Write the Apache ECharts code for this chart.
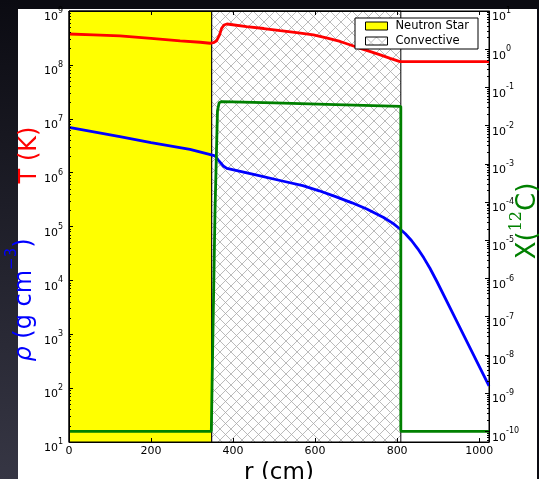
<!DOCTYPE html>
<html>
<head>
<meta charset="utf-8">
<script src="https://cdn.jsdelivr.net/npm/echarts@6/dist/echarts.min.js"></script>
<style>
html,body{margin:0;padding:0;width:539px;height:479px;overflow:hidden;background:#0b0b12;}
#strip{position:absolute;left:0;top:0;width:18px;height:479px;background:linear-gradient(#0b0b12,#363644);}
#paper{position:absolute;left:18px;top:9px;width:519px;height:470px;background:#ffffff;}
#chart{position:absolute;left:0;top:0;width:539px;height:479px;}
</style>
</head>
<body>
<div id="strip"></div><div id="paper"></div><div id="chart"></div>
<script>
// ---- data ----
const xTicks = [0, 200, 400, 600, 800, 1000];
const rMax = 1024;
const leftExponents = [1, 2, 3, 4, 5, 6, 7, 8, 9];          // rho, T axis: 10^1 .. 10^9
const rightExponents = [-10, -9, -8, -7, -6, -5, -4, -3, -2, -1, 0, 1]; // X(12C) axis
const leftLogRange = [1, 9];
const rightLogRange = [-10.28, 1];

const nsRange = [0, 348];      // Neutron Star region (cm)
const convRange = [348, 809];  // Convective region (cm)

const radiusT = [0, 60, 124, 200, 271, 320, 344, 352, 360, 367, 372, 378, 385, 433, 475, 515, 555, 596, 630, 661, 690, 710, 735, 759, 783, 807, 1024];
const temperature = [3.74e8, 3.59e8, 3.44e8, 3.09e8, 2.78e8, 2.63e8, 2.52e8, 2.58e8, 2.81e8, 3.59e8, 4.77e8, 5.50e8, 5.74e8, 5.11e8, 4.73e8, 4.31e8, 3.96e8, 3.59e8, 3.15e8, 2.72e8, 2.29e8, 2.03e8, 1.76e8, 1.53e8, 1.32e8, 1.15e8, 1.15e8];

const radiusRho = [0, 124, 200, 295, 340, 356, 364, 376, 385, 450, 520, 570, 610, 650, 690, 726, 767, 790, 807, 820, 835, 850, 865, 880, 897, 937, 978, 1024];
const density = [6.95e6, 4.65e6, 3.62e6, 2.71e6, 2.21e6, 2.04e6, 1.71e6, 1.33e6, 1.20e6, 9.27e5, 6.99e5, 5.72e5, 4.60e5, 3.59e5, 2.75e5, 2.11e5, 1.47e5, 1.14e5, 8.99e4, 7.35e4, 5.50e4, 3.90e4, 2.62e4, 1.68e4, 9.53e3, 2.35e3, 555, 110];

const radiusC = [0, 347, 349, 356, 362, 366, 372, 500, 650, 809, 809, 1024];
const carbon = [1e-10, 1e-10, 2.2e-9, 6.0e-5, 2.45e-2, 3.96e-2, 4.26e-2, 3.92e-2, 3.56e-2, 3.19e-2, 1e-10, 1e-10];

// ---- helpers ----
const FONT = 'DejaVu Sans';
function logPairs(xs, ys) { return xs.map((x, i) => [x, Math.log10(ys[i])]); }
function minorTicks(exps) {
  const out = [];
  for (let i = 0; i < exps.length - 1; i++) for (let k = 2; k <= 9; k++) out.push(exps[i] + Math.log10(k));
  return out;
}
function hatchCanvas() {
  const P = 11;
  const c = document.createElement('canvas');
  c.width = P; c.height = P;
  const g = c.getContext('2d');
  g.fillStyle = '#ffffff'; g.fillRect(0, 0, P, P);
  g.strokeStyle = '#aaaaaa'; g.lineWidth = 0.8;
  g.beginPath();
  g.moveTo(-1, -1); g.lineTo(P + 1, P + 1);
  g.moveTo(P + 1, -1); g.lineTo(-1, P + 1);
  g.stroke();
  return c;
}
const hatch = { image: hatchCanvas(), repeat: 'repeat' };
const expRich = {
  b: { fontSize: 11, fontFamily: FONT, color: '#000', padding: [5, 0, 0, 0] },
  s: { fontSize: 8, fontFamily: FONT, color: '#000', verticalAlign: 'top' }
};
const expFmt = v => '{b|10}{s|' + Math.round(v) + '}';
const tickBase = { show: true, inside: true, length: 4, lineStyle: { color: '#000', width: 1 } };
const lineAxis = { show: true, onZero: false, lineStyle: { color: '#000', width: 1 } };

const chart = echarts.init(document.getElementById('chart'), null, { renderer: 'canvas' });
chart.setOption({
  animation: false,
  backgroundColor: 'transparent',
  grid: { left: 69, right: 50, top: 11, bottom: 37, show: true, backgroundColor: '#fff', borderColor: '#000', borderWidth: 1, containLabel: false, outerBoundsMode: 'none' },
  legend: {
    orient: 'vertical', left: 355, top: 18,
    padding: [2, 9, 2, 10], itemGap: 3, itemWidth: 22, itemHeight: 8,
    backgroundColor: '#fff', borderColor: '#000', borderWidth: 1, borderRadius: 0,
    selectedMode: false,
    textStyle: { fontFamily: FONT, fontSize: 11.5, color: '#000', padding: [0, 0, 0, 3], lineHeight: 12 },
    data: [
      { name: 'Neutron Star', icon: 'rect', itemStyle: { color: '#ffff00', borderColor: '#000', borderWidth: 1 } },
      { name: 'Convective', icon: 'rect', itemStyle: { color: hatch, borderColor: '#000', borderWidth: 1 } }
    ]
  },
  xAxis: [
    { type: 'value', position: 'bottom', min: 0, max: rMax, z: 10,
      axisLine: lineAxis, splitLine: { show: false },
      axisTick: Object.assign({ customValues: xTicks }, tickBase),
      axisLabel: { customValues: xTicks, formatter: v => String(v), color: '#000', fontFamily: FONT, fontSize: 11, margin: 4 },
      name: 'r (cm)', nameLocation: 'middle', nameGap: 13,
      nameTextStyle: { fontFamily: FONT, fontSize: 23, color: '#000' } },
    { type: 'value', position: 'top', min: 0, max: rMax, z: 10,
      axisLine: lineAxis, splitLine: { show: false },
      axisTick: Object.assign({ customValues: xTicks }, tickBase),
      axisLabel: { show: false } }
  ],
  yAxis: [
    { type: 'value', position: 'left', min: leftLogRange[0], max: leftLogRange[1], z: 10,
      axisLine: lineAxis, splitLine: { show: false },
      axisTick: Object.assign({ customValues: leftExponents }, tickBase),
      axisLabel: { customValues: leftExponents, formatter: expFmt, rich: expRich, margin: 6, padding: [8, 0, 0, 0] } },
    { type: 'value', position: 'right', min: rightLogRange[0], max: rightLogRange[1], z: 10,
      axisLine: lineAxis, splitLine: { show: false },
      axisTick: Object.assign({ customValues: rightExponents }, tickBase),
      axisLabel: { customValues: rightExponents, formatter: expFmt, rich: expRich, margin: 3, padding: [8, 0, 0, 0] } },
    { type: 'value', position: 'left', min: leftLogRange[0], max: leftLogRange[1], z: 10,
      axisLine: { show: false, onZero: false }, splitLine: { show: false }, axisLabel: { show: false },
      axisTick: { show: true, inside: true, length: 2, customValues: minorTicks(leftExponents), lineStyle: { color: '#000' } } },
    { type: 'value', position: 'right', min: rightLogRange[0], max: rightLogRange[1], z: 10,
      axisLine: { show: false, onZero: false }, splitLine: { show: false }, axisLabel: { show: false },
      axisTick: { show: true, inside: true, length: 2, customValues: minorTicks([-11].concat(rightExponents)).filter(v => v >= rightLogRange[0]), lineStyle: { color: '#000' } } }
  ],
  series: [
    { name: 'Neutron Star', type: 'line', data: [], z: 1, silent: true,
      itemStyle: { color: '#ffff00' },
      markArea: { silent: true, label: { show: false },
        itemStyle: { color: '#ffff00', opacity: 1, borderColor: '#000', borderWidth: 1 },
        data: [[{ xAxis: nsRange[0] }, { xAxis: nsRange[1] }]] } },
    { name: 'Convective', type: 'line', data: [], z: 1, silent: true,
      itemStyle: { color: '#cccccc' },
      markArea: { silent: true, label: { show: false },
        itemStyle: { color: hatch, opacity: 1, borderColor: '#000', borderWidth: 1 },
        data: [[{ xAxis: convRange[0] }, { xAxis: convRange[1] }]] } },
    { name: 'T', type: 'line', xAxisIndex: 0, yAxisIndex: 0, z: 3, showSymbol: false, silent: true,
      lineStyle: { color: '#ff0000', width: 2.8 }, itemStyle: { color: '#ff0000' },
      data: logPairs(radiusT, temperature) },
    { name: 'rho', type: 'line', xAxisIndex: 0, yAxisIndex: 0, z: 3, showSymbol: false, silent: true,
      lineStyle: { color: '#0000ff', width: 2.8 }, itemStyle: { color: '#0000ff' },
      data: logPairs(radiusRho, density) },
    { name: 'X12C', type: 'line', xAxisIndex: 0, yAxisIndex: 1, z: 3, showSymbol: false, silent: true,
      lineStyle: { color: '#008000', width: 2.8 }, itemStyle: { color: '#008000' },
      data: logPairs(radiusC, carbon) }
  ],
  graphic: [
    { type: 'text', x: 29.5, y: 155, rotation: Math.PI / 2, silent: true,
      style: { text: 'T (K)', fill: '#ff0000', fontFamily: FONT, fontSize: 24, align: 'center', verticalAlign: 'middle' } },
    { type: 'text', x: 21, y: 300, rotation: Math.PI / 2, silent: true,
      style: { text: '{i|ρ}{b| (g cm}{s|−3}{b|)}', fill: '#0000ff', align: 'center', verticalAlign: 'middle',
        rich: {
          i: { fontFamily: FONT, fontSize: 24, fontStyle: 'italic', fill: '#0000ff', padding: [8, 0, 0, 0] },
          b: { fontFamily: FONT, fontSize: 24, fill: '#0000ff', padding: [8, 0, 0, 0] },
          s: { fontFamily: FONT, fontSize: 15, fill: '#0000ff', verticalAlign: 'top' }
        } } },
    { type: 'text', x: 525, y: 221, rotation: Math.PI / 2, silent: true,
      style: { text: '{b|X(}{s|12}{b|C)}', fill: '#008000', align: 'center', verticalAlign: 'middle',
        rich: {
          b: { fontFamily: FONT, fontSize: 26, fill: '#008000', padding: [6, 0, 0, 0] },
          s: { fontFamily: 'DejaVu Serif', fontSize: 16, fill: '#008000', verticalAlign: 'top' }
        } } }
  ]
});
</script>
</body>
</html>
